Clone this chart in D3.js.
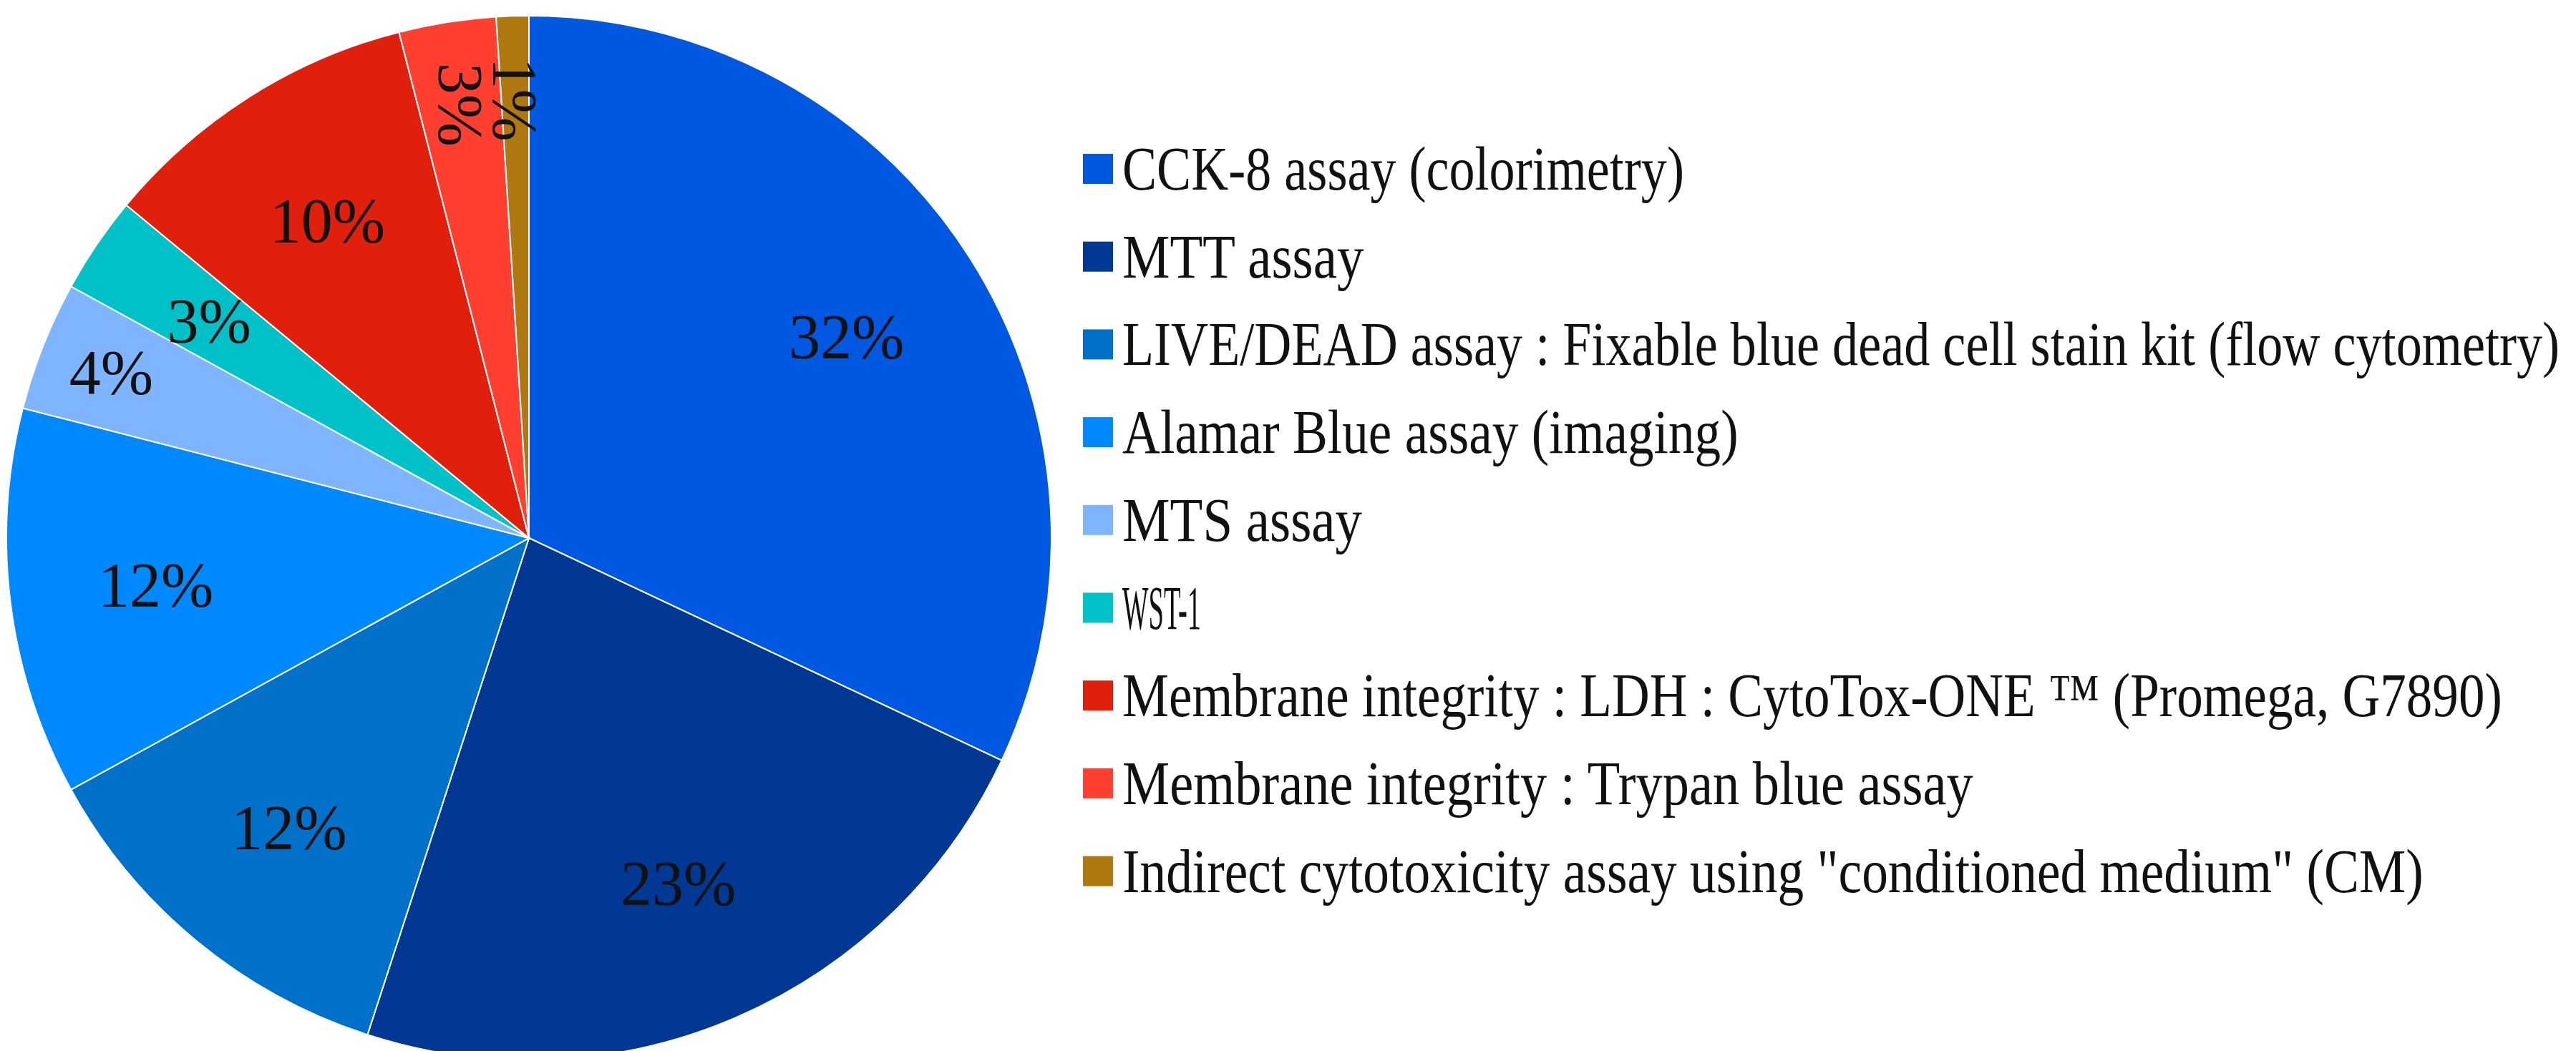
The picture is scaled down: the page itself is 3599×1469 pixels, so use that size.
<!DOCTYPE html>
<html><head><meta charset="utf-8">
<script src="https://cdn.jsdelivr.net/npm/d3@7"></script>
<style>body{margin:0;background:#fff}</style></head>
<body><svg id="c" width="3599" height="1469"></svg>
<script>
const categories = ["CCK-8 assay (colorimetry)","MTT assay","LIVE/DEAD assay : Fixable blue dead cell stain kit (flow cytometry)","Alamar Blue assay (imaging)","MTS assay","WST-1","Membrane integrity : LDH : CytoTox-ONE \u2122 (Promega, G7890)","Membrane integrity : Trypan blue assay","Indirect cytotoxicity assay using \"conditioned medium\" (CM)"];
const values = [32,23,12,12,4,3,10,3,1];
const colors = ["#0058E0","#003894","#0070C8","#0088FF","#7FB4FF","#00C0C8","#E0200C","#FF4030","#B07810"];
const legendWidths = [342,147,875,375,146,48,840,518,792]; // thumbnail-scale widths of legend text

const svg = d3.select("#c");
const cx = 739, cy = 752, R = 730;
const pie = d3.pie().sort(null).value(d=>d)(values);
const arc = d3.arc().innerRadius(0).outerRadius(R);
const g = svg.append("g").attr("transform",`translate(${cx},${cy})`);
g.selectAll("path").data(pie).join("path").attr("d",arc)
  .attr("fill",(d,i)=>colors[i]).attr("stroke","#fff").attr("stroke-width",2);
const font = "'Liberation Serif', serif";
pie.forEach((d,i)=>{
  const small = (i===7||i===8);
  const rr = small ? R*0.84 : (i===5 ? R*0.74 : (i===4? R*0.86 : R*0.72));
  const a = (d.startAngle+d.endAngle)/2;
  const x = Math.sin(a)*rr, y = -Math.cos(a)*rr;
  const t = g.append("text").attr("font-family",font).attr("font-size",88).attr("fill","#111")
    .attr("text-anchor","middle").attr("dominant-baseline","central").text(values[i]+"%");
  if(small) t.attr("transform",`translate(${x},${y}) rotate(90)`);
  else t.attr("x",x).attr("y",y);
});
const lg = svg.append("g");
categories.forEach((c,i)=>{
  const y = 236 + i*122.7;
  lg.append("rect").attr("x",1513).attr("y",y-21).attr("width",42).attr("height",42).attr("fill",colors[i]);
  lg.append("text").attr("x",1568).attr("y",y).attr("dominant-baseline","central")
    .attr("font-family",font).attr("font-size",86).attr("fill","#111")
    .attr("textLength",legendWidths[i]*2.295).attr("lengthAdjust","spacingAndGlyphs").text(c);
});
</script></body></html>
